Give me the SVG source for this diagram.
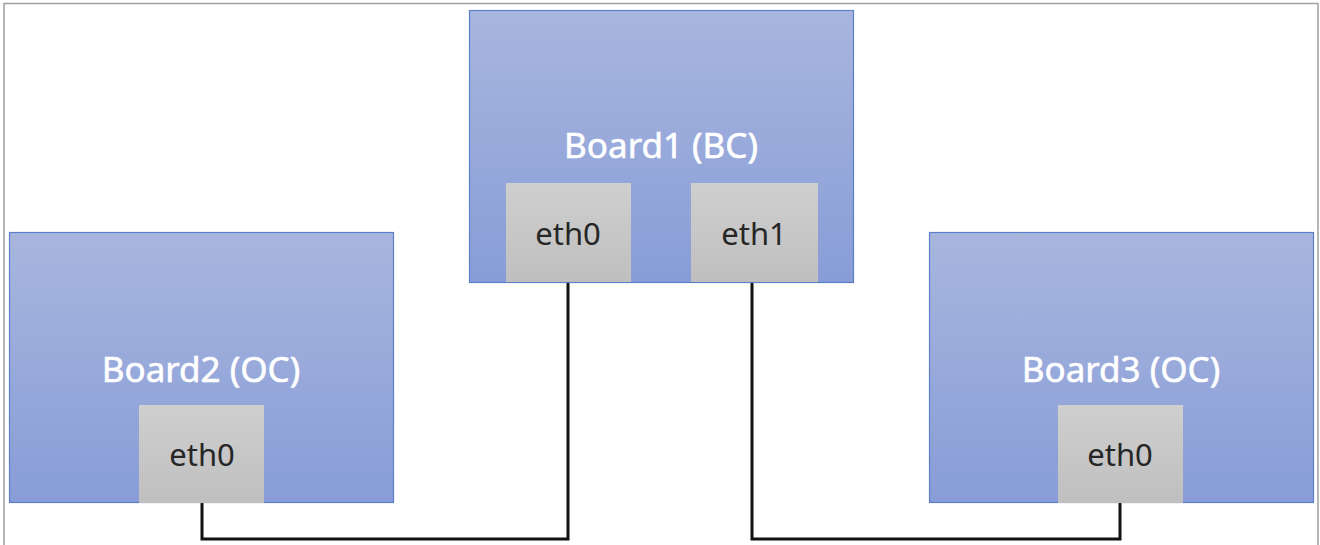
<svg xmlns="http://www.w3.org/2000/svg" width="1320" height="545" viewBox="0 0 1320 545">
<defs>
<linearGradient id="gBoard" x1="0" y1="0" x2="0" y2="1">
<stop offset="0" stop-color="#A8B6DE"/>
<stop offset="1" stop-color="#889DD7"/>
</linearGradient>
<linearGradient id="gPort" x1="0" y1="0" x2="0" y2="1">
<stop offset="0" stop-color="#CFCFCF"/>
<stop offset="1" stop-color="#BFBFBF"/>
</linearGradient>
</defs>
<style>
.board{fill:url(#gBoard);stroke:#5B7FC8;stroke-width:1.2}
.port{fill:url(#gPort);stroke:none}
.bt{font-family:"Noto Sans","Liberation Sans",sans-serif;font-size:35px;fill:#FFFFFF;stroke:#FFFFFF;stroke-width:0.6;text-anchor:middle}
.pt{font-family:"Noto Sans","Liberation Sans",sans-serif;font-size:31px;fill:#262626;text-anchor:middle}
.wire{fill:none;stroke:#111111;stroke-width:3;stroke-linejoin:miter}
.frame{fill:none;stroke:#A0A0A0;stroke-width:1.5}
</style>
<rect width="1320" height="545" fill="#FFFFFF"/>
<path class="frame" d="M4 545 V3.5 H1318 V545"/>
<g id="connectors">
<path class="wire" d="M568 282 V539 H202 V503"/>
<path class="wire" d="M752 282 V539 H1120 V503"/>
</g>
<g id="board1">
<rect class="board" x="469.5" y="10.5" width="384" height="272"/>
<text class="bt" x="661" y="158">Board1 (BC)</text>
</g>
<g id="board1-eth0">
<rect class="port" x="506" y="183" width="125" height="99"/>
<text class="pt" x="568" y="245">eth0</text>
</g>
<g id="board1-eth1">
<rect class="port" x="691" y="183" width="127" height="99"/>
<text class="pt" x="754" y="245">eth1</text>
</g>
<g id="board2">
<rect class="board" x="9.5" y="232.5" width="384" height="270"/>
<text class="bt" x="201" y="382">Board2 (OC)</text>
</g>
<g id="board2-eth0">
<rect class="port" x="139" y="405" width="125" height="98"/>
<text class="pt" x="202" y="466">eth0</text>
</g>
<g id="board3">
<rect class="board" x="929.5" y="232.5" width="384" height="270"/>
<text class="bt" x="1121" y="382">Board3 (OC)</text>
</g>
<g id="board3-eth0">
<rect class="port" x="1058" y="405" width="125" height="98"/>
<text class="pt" x="1120" y="466">eth0</text>
</g>
</svg>
